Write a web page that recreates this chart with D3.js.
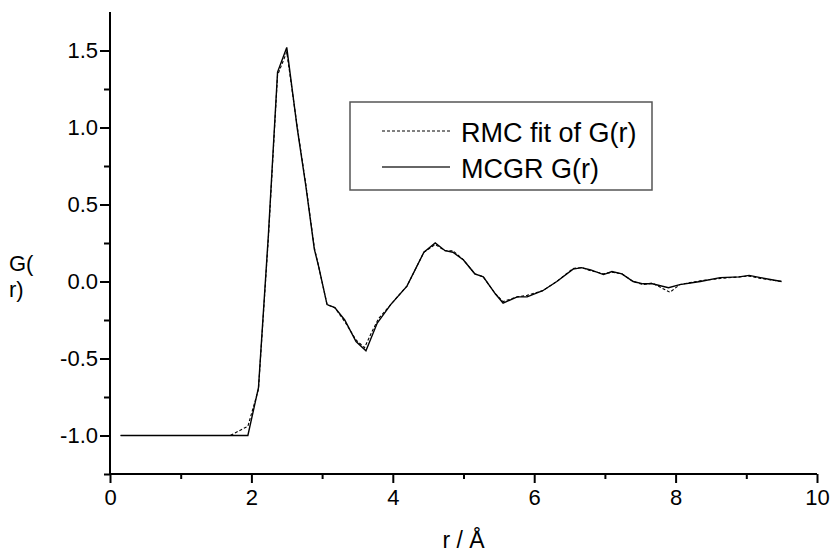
<!DOCTYPE html>
<html>
<head>
<meta charset="utf-8">
<script src="https://cdn.jsdelivr.net/npm/d3@7/dist/d3.min.js"></script>
<style>
  body { margin: 0; background: #fff; }
  text { font-family: "Liberation Sans", Arial, sans-serif; fill: #000; }
</style>
</head>
<body>
<div id="chart"></div>
<script>
// MCGR G(r) (solid)
var mcgrR = [0.15, 1.95, 2.1, 2.24, 2.37, 2.5, 2.65, 2.77, 2.89, 2.95, 3.07, 3.18, 3.32, 3.48, 3.62, 3.78, 3.97, 4.2, 4.44, 4.6, 4.74, 4.85, 5.0, 5.16, 5.28, 5.45, 5.56, 5.76, 5.9, 6.12, 6.32, 6.55, 6.67, 6.8, 6.98, 7.1, 7.24, 7.4, 7.54, 7.67, 7.9, 8.06, 8.35, 8.63, 8.9, 9.04, 9.2, 9.5];
var mcgrG = [-1.0, -1.0, -0.69, 0.3, 1.36, 1.52, 0.99, 0.62, 0.21, 0.1, -0.15, -0.17, -0.25, -0.39, -0.45, -0.27, -0.15, -0.03, 0.19, 0.25, 0.2, 0.19, 0.14, 0.05, 0.03, -0.08, -0.14, -0.1, -0.1, -0.06, 0.0, 0.08, 0.09, 0.075, 0.045, 0.065, 0.05, 0.0, -0.015, -0.015, -0.04, -0.02, 0.0, 0.025, 0.03, 0.04, 0.025, 0.0];
// RMC fit of G(r) (dashed)
var rmcR = [0.15, 1.7, 1.95, 2.1, 2.24, 2.37, 2.5, 2.65, 2.77, 2.89, 2.95, 3.07, 3.18, 3.32, 3.48, 3.6, 3.7, 3.8, 3.97, 4.2, 4.44, 4.6, 4.74, 4.85, 5.0, 5.16, 5.28, 5.45, 5.56, 5.76, 5.9, 6.12, 6.32, 6.55, 6.67, 6.8, 6.98, 7.1, 7.24, 7.4, 7.54, 7.67, 7.92, 8.06, 8.35, 8.63, 8.9, 9.04, 9.2, 9.5];
var rmcG = [-1.0, -1.0, -0.94, -0.7, 0.28, 1.34, 1.49, 1.0, 0.63, 0.22, 0.1, -0.15, -0.17, -0.26, -0.38, -0.43, -0.33, -0.24, -0.15, -0.03, 0.19, 0.24, 0.2, 0.2, 0.14, 0.05, 0.03, -0.08, -0.13, -0.1, -0.09, -0.06, 0.0, 0.085, 0.09, 0.07, 0.05, 0.06, 0.05, 0.0, -0.02, -0.01, -0.07, -0.02, 0.005, 0.02, 0.03, 0.035, 0.02, 0.0];

var xTicks = [0, 2, 4, 6, 8, 10];
var yTicks = [-1.0, -0.5, 0.0, 0.5, 1.0, 1.5];
var legendLabels = ["RMC fit of G(r)", "MCGR G(r)"];

var width = 832, height = 554;
var svg = d3.select("#chart").append("svg")
	.attr("width", width)
	.attr("height", height);

var x = d3.scaleLinear().domain([0, 10]).range([110, 817]);
var y = d3.scaleLinear().domain([-1.25, 1.75]).range([474, 12]);

// plain hyphen minus like the original
var fmtY = function(d){ return d.toFixed(1); };

// axes
var xAxis = svg.append("g").attr("transform", "translate(0," + y(-1.25) + ")");
xAxis.append("g")
	.call(d3.axisBottom(x).tickValues(d3.range(1, 10, 2)).tickSize(5).tickFormat(""));
xAxis.append("g")
	.call(d3.axisBottom(x).tickValues(xTicks).tickSize(9).tickPadding(3).tickFormat(d3.format("d")));

var yAxis = svg.append("g").attr("transform", "translate(" + x(0) + ",0)");
yAxis.append("g")
	.call(d3.axisLeft(y).tickValues([-1.25, -0.75, -0.25, 0.25, 0.75, 1.25]).tickSize(6).tickFormat(""));
yAxis.append("g")
	.call(d3.axisLeft(y).tickValues(yTicks).tickSize(10).tickPadding(2).tickFormat(fmtY));

svg.selectAll(".domain").attr("stroke", "#000").attr("stroke-width", 2);
svg.selectAll(".tick line").attr("stroke", "#000").attr("stroke-width", 2);
svg.selectAll(".tick text").attr("font-size", 22).attr("font-family", "Liberation Sans, Arial, sans-serif").attr("fill", "#000");
xAxis.selectAll(".tick text").attr("dy", "0.85em");
// fix the domain overshoot
yAxis.selectAll(".domain").attr("d", "M0," + y(1.75) + "V" + y(-1.25));
xAxis.selectAll(".domain").attr("d", "M" + x(0) + ",0H" + x(10));

// axis titles
svg.append("text").attr("x", x(5)).attr("y", 548).attr("text-anchor", "middle")
	.attr("font-size", 23).text("r / Å");
svg.append("text").attr("x", 9).attr("y", 271).attr("font-size", 22).text("G(");
svg.append("text").attr("x", 9).attr("y", 297).attr("font-size", 22).text("r)");

// lines
var line = d3.line()
	.x(function(d){ return x(d[0]); })
	.y(function(d){ return y(d[1]); });

svg.append("path")
	.datum(d3.zip(rmcR, rmcG))
	.attr("fill", "none")
	.attr("stroke", "#000")
	.attr("stroke-width", 1.1)
	.attr("stroke-dasharray", "3,2")
	.attr("d", line);

svg.append("path")
	.datum(d3.zip(mcgrR, mcgrG))
	.attr("fill", "none")
	.attr("stroke", "#000")
	.attr("stroke-width", 1.4)
	.attr("d", line);

// legend
var legend = svg.append("g");
legend.append("rect")
	.attr("x", 350).attr("y", 102).attr("width", 302).attr("height", 88)
	.attr("fill", "#fff").attr("stroke", "#555").attr("stroke-width", 1.5);
legend.append("line").attr("x1", 382).attr("x2", 450).attr("y1", 131).attr("y2", 131)
	.attr("stroke", "#000").attr("stroke-width", 1).attr("stroke-dasharray", "3,2");
legend.append("line").attr("x1", 382).attr("x2", 450).attr("y1", 167).attr("y2", 167)
	.attr("stroke", "#333").attr("stroke-width", 1.5);
legend.selectAll("text.lab").data(legendLabels).enter().append("text")
	.attr("class", "lab")
	.attr("x", 461)
	.attr("y", function(d, i){ return 142 + i*36; })
	.attr("font-size", 27)
	.text(function(d){ return d; });
</script>
</body>
</html>
